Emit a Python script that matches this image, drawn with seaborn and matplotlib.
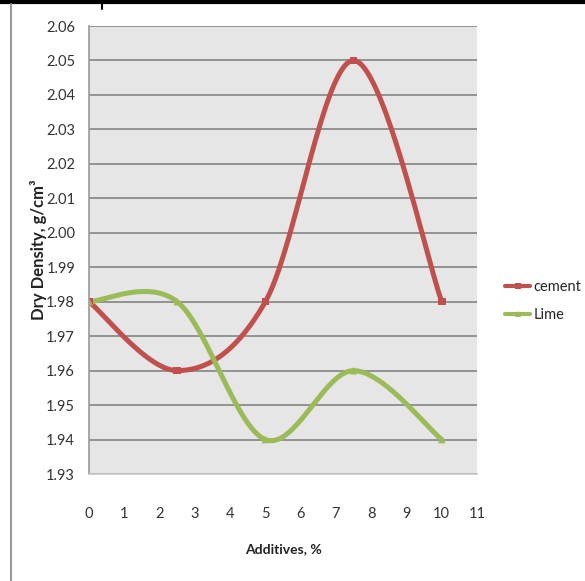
import numpy as np
import pandas as pd
import matplotlib
matplotlib.use("Agg")
import matplotlib.pyplot as plt
from matplotlib.lines import Line2D
import seaborn as sns

additives = [0, 2.5, 5, 7.5, 10]
cement = [1.98, 1.96, 1.98, 2.05, 1.98]
lime = [1.98, 1.98, 1.94, 1.96, 1.94]
x_ticks = list(range(0, 12))
y_ticks = [1.93, 1.94, 1.95, 1.96, 1.97, 1.98, 1.99, 2.00, 2.01, 2.02, 2.03, 2.04, 2.05, 2.06]

RED = "#C0504D"
GREEN = "#9BBB59"


def smooth(xs, ys, n=40):
    # Excel-style smoothed line (Catmull-Rom Bezier through the points)
    xs = np.asarray(xs, float)
    ys = np.asarray(ys, float)
    px, py = [], []
    m = len(xs)
    for i in range(m - 1):
        x0, y0 = (xs[i - 1], ys[i - 1]) if i > 0 else (xs[i], ys[i])
        x1, y1 = xs[i], ys[i]
        x2, y2 = xs[i + 1], ys[i + 1]
        x3, y3 = (xs[i + 2], ys[i + 2]) if i + 2 < m else (xs[i + 1], ys[i + 1])
        c1x, c1y = x1 + (x2 - x0) / 6, y1 + (y2 - y0) / 6
        c2x, c2y = x2 - (x3 - x1) / 6, y2 - (y3 - y1) / 6
        t = np.linspace(0, 1, n)
        bx = (1 - t) ** 3 * x1 + 3 * (1 - t) ** 2 * t * c1x + 3 * (1 - t) * t ** 2 * c2x + t ** 3 * x2
        by = (1 - t) ** 3 * y1 + 3 * (1 - t) ** 2 * t * c1y + 3 * (1 - t) * t ** 2 * c2y + t ** 3 * y2
        px.extend(bx)
        py.extend(by)
    return np.array(px), np.array(py)


sns.set_theme(style="white")
plt.rcParams["font.family"] = ["Lato", "DejaVu Sans"]

fig = plt.figure(figsize=(5.85, 5.81), dpi=100)
ax = fig.add_axes([89 / 585, 1 - 474 / 581, (477 - 89) / 585, (474 - 26) / 581])
ax.set_facecolor("#E6E6E6")

df = pd.DataFrame({"x": additives * 2, "y": cement + lime,
                   "series": ["cement"] * 5 + ["Lime"] * 5})

for name, ys, col in [("cement", cement, RED), ("Lime", lime, GREEN)]:
    sx, sy = smooth(additives, ys)
    ax.plot(sx, sy, color=col, lw=3.6, solid_capstyle="round", zorder=3)

sns.scatterplot(data=df, x="x", y="y", hue="series", style="series",
                markers={"cement": "s", "Lime": "^"},
                palette={"cement": RED, "Lime": GREEN}, s=30, linewidth=0,
                ax=ax, legend=False, zorder=4)

ax.set_xlim(0, 11)
ax.set_ylim(1.93, 2.06)
ax.set_xticks(x_ticks)
ax.set_yticks(y_ticks)
ax.set_yticklabels([f"{v:.2f}" for v in y_ticks])
ax.yaxis.grid(True, color="#8C8C8C", lw=1.3)
ax.xaxis.grid(False)
ax.set_axisbelow(True)
for s in ["top", "right"]:
    ax.spines[s].set_visible(False)
ax.spines["left"].set_color("#9A9A9A")
ax.spines["bottom"].set_color("#C8C8C8")
ax.spines["left"].set_linewidth(1.2)
ax.spines["bottom"].set_linewidth(1.2)
ax.tick_params(axis="both", length=0, labelsize=10.5, colors="#333333")
ax.tick_params(axis="y", pad=10)
ax.tick_params(axis="x", pad=24)

ax.set_xlabel("Additives, %", fontsize=10, fontweight="bold", color="#222222", labelpad=16)
ax.set_ylabel("Dry Density, g/cm³", fontsize=12, fontweight="bold", color="#222222")
ax.yaxis.set_label_coords(-0.108, 0.5)

handles = [Line2D([], [], color=RED, lw=3, marker="s", markersize=5, markeredgewidth=0),
           Line2D([], [], color=GREEN, lw=3, marker="^", markersize=5, markeredgewidth=0)]
fig.legend(handles, ["cement", "Lime"], loc="center left",
           bbox_to_anchor=(495 / 585, 1 - 301 / 581), frameon=False,
           fontsize=10.5, handlelength=1.7, handletextpad=0.25, labelspacing=1.0,
           borderpad=0.2)

# page/table borders around the chart
fig.add_artist(Line2D([0, 1], [1 - 2 / 581, 1 - 2 / 581], color="black", lw=3, transform=fig.transFigure))
fig.add_artist(Line2D([11 / 585, 11 / 585], [0, 1 - 4 / 581], color="#9A9A9A", lw=1.5, transform=fig.transFigure))
fig.add_artist(Line2D([102 / 585, 102 / 585], [1 - 9 / 581, 1], color="black", lw=1.5, transform=fig.transFigure))

fig.savefig("out.png", dpi=100, facecolor="white")
